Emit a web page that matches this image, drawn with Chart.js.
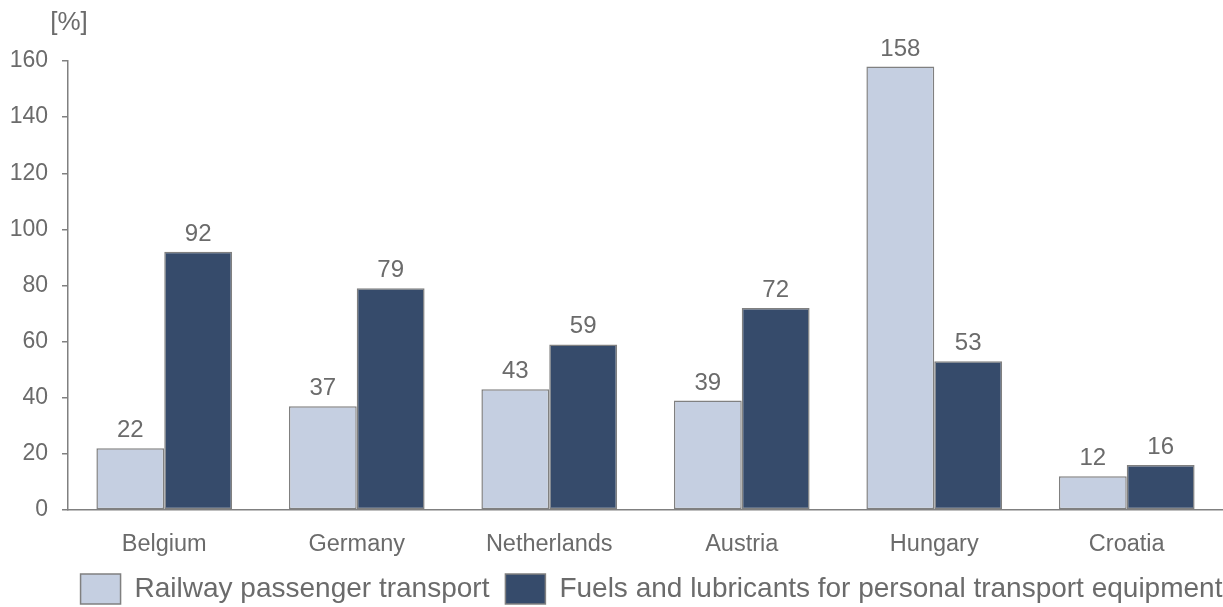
<!DOCTYPE html>
<html>
<head>
<meta charset="utf-8">
<script src="https://cdn.jsdelivr.net/npm/chart.js@4.4.1/dist/chart.umd.min.js"></script>
<style>
  html, body { margin: 0; padding: 0; background: #fff; overflow: hidden; }
  #wrap { width: 1223px; height: 607px; }
</style>
</head>
<body>
<div id="wrap"><canvas id="chart" width="1223" height="607"></canvas></div>
<script>
const countries = ['Belgium', 'Germany', 'Netherlands', 'Austria', 'Hungary', 'Croatia'];
const railway = [22, 37, 43, 39, 158, 12];
const fuels = [92, 79, 59, 72, 53, 16];
const yTicks = [0, 20, 40, 60, 80, 100, 120, 140, 160];

const textColor = '#6b6b6b';
const lineColor = '#808080';
const fontFamily = 'Arial, "Liberation Sans", Helvetica, sans-serif';

// value labels above each bar, plus the unit over the y axis
const valueLabels = {
  id: 'valueLabels',
  afterLayout(chart) {
    // legend sits a bit right of the canvas centre
    const lg = chart.legend;
    if (lg) { lg.left += 40; lg.right += 40; }
  },
  afterDatasetsDraw(chart) {
    const ctx = chart.ctx;
    ctx.save();
    ctx.fillStyle = textColor;
    ctx.font = '24px ' + fontFamily;
    ctx.textAlign = 'center';
    ctx.textBaseline = 'alphabetic';
    chart.data.datasets.forEach((ds, i) => {
      chart.getDatasetMeta(i).data.forEach((bar, j) => {
        ctx.fillText(ds.data[j], bar.x, bar.y - 11);
      });
    });
    const yScale = chart.scales.y;
    ctx.font = '26px ' + fontFamily;
    ctx.fillText('[%]', yScale.right + 1, 30);
    ctx.restore();
  }
};

const ctx = document.getElementById('chart').getContext('2d');
new Chart(ctx, {
  type: 'bar',
  data: {
    labels: countries,
    datasets: [
      {
        label: 'Railway passenger transport',
        data: railway,
        backgroundColor: '#c5cfe1',
        borderColor: lineColor,
        borderWidth: 1.5,
        borderSkipped: false,
      },
      {
        label: 'Fuels and lubricants for personal transport equipment',
        data: fuels,
        backgroundColor: '#364b6b',
        borderColor: lineColor,
        borderWidth: 1.5,
        borderSkipped: false,
      },
    ],
  },
  options: {
    responsive: false,
    animation: false,
    layout: { padding: { top: 61, right: 0, bottom: -7, left: 0 } },
    datasets: {
      bar: { categoryPercentage: 0.705, barPercentage: 1.0 },
    },
    plugins: {
      tooltip: { enabled: false },
      legend: {
        position: 'bottom',
        align: 'center',
        labels: {
          boxWidth: 40,
          boxHeight: 30,
          padding: 16,
          color: textColor,
          font: { family: fontFamily, size: 28 },
        },
      },
    },
    scales: {
      x: {
        grid: { display: false, drawTicks: false },
        border: { display: true, color: lineColor, width: 1.5 },
        ticks: {
          color: textColor,
          padding: 20,
          font: { family: fontFamily, size: 23.5 },
        },
        afterFit(scale) { scale.height = 48; },
      },
      y: {
        min: 0,
        max: 160,
        afterBuildTicks(scale) {
          scale.ticks = yTicks.map(v => ({ value: v }));
        },
        grid: {
          drawOnChartArea: false,
          drawTicks: true,
          tickLength: 6,
          color: lineColor,
          lineWidth: 1.5,
        },
        border: { display: true, color: lineColor, width: 1.5 },
        ticks: {
          color: textColor,
          padding: 14,
          font: { family: fontFamily, size: 23 },
        },
        afterFit(scale) { scale.width = 68; },
      },
    },
  },
  plugins: [valueLabels],
});
</script>
</body>
</html>
